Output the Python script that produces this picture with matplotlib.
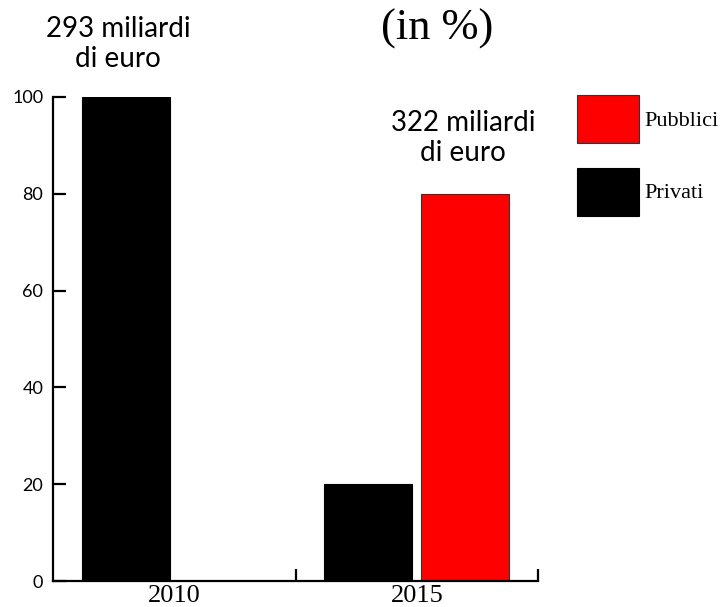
import matplotlib.pyplot as plt
import numpy as np

years = ['2010', '2015']
privati = [100, 20]
pubblici = [0, 80]
totali = ['293 miliardi\ndi euro', '322 miliardi\ndi euro']

sans = ['Lato', 'DejaVu Sans']
serif = ['Liberation Serif', 'DejaVu Serif']

fig = plt.figure(figsize=(7.22, 6.07), dpi=100)
ax = fig.add_axes([53/722, 26/607, 485/722, 484/607])

x = np.arange(len(years))
w = 0.363
ax.bar(x - 0.2, privati, w, color='black', edgecolor='black', linewidth=0.8, label='Privati')
ax.bar(x + 0.2, pubblici, w, color='#ff0000', edgecolor='#333333', linewidth=0.8, label='Pubblici')

ax.set_xlim(-0.5, 1.5)
ax.set_ylim(0, 100)
ax.spines['top'].set_visible(False)
ax.spines['right'].set_visible(False)
ax.spines['left'].set_linewidth(1.6)
ax.spines['bottom'].set_linewidth(1.6)

ax.set_yticks([0, 20, 40, 60, 80, 100])
ax.tick_params(axis='y', direction='in', length=9, width=1.6, pad=7)
for lab in ax.get_yticklabels():
    lab.set_family(sans)
    lab.set_fontsize(13)

ax.set_xticks(x)
ax.set_xticklabels(years, family=serif, fontsize=19)
ax.tick_params(axis='x', length=0, pad=3)
ax.set_xticks([0.5, 1.5], minor=True)
ax.tick_params(axis='x', which='minor', direction='in', length=9, width=1.6)

# etichette dei totali
fig.text(118/722, 1 - 44/607, totali[0], ha='center', va='center',
         family=sans, fontsize=20, linespacing=1.2)
fig.text(463/722, 1 - 138/607, totali[1], ha='center', va='center',
         family=sans, fontsize=20, linespacing=1.15)

fig.text(437/722, 1 - 29/607, '(in %)', ha='center', va='center',
         family=serif, fontsize=32)

handles, labels = ax.get_legend_handles_labels()
fig.legend(handles[::-1], labels[::-1], loc='upper left',
           bbox_to_anchor=(577/722, 1 - 95/607), frameon=False,
           borderpad=0, borderaxespad=0, handlelength=2.8, handleheight=2.95,
           labelspacing=1.12, handletextpad=0.22,
           prop={'family': serif, 'size': 16})

fig.savefig('out.png', dpi=100)
